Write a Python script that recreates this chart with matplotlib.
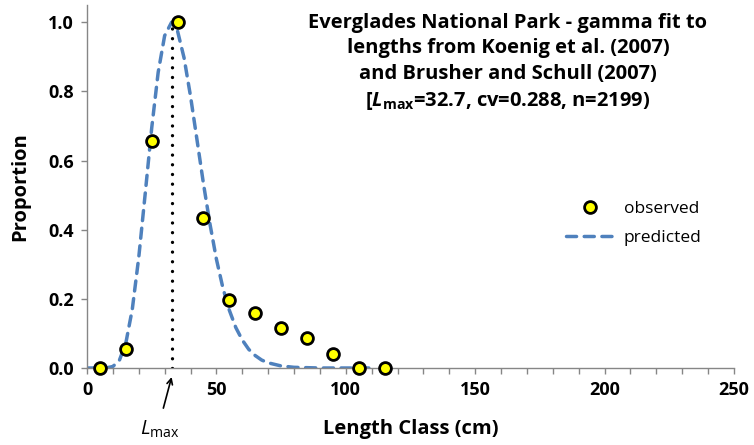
import matplotlib
matplotlib.use("Agg")
import matplotlib.pyplot as plt
from matplotlib.ticker import MultipleLocator, FormatStrFormatter

FONT = 'Open Sans'
plt.rcParams['font.family'] = [FONT, 'DejaVu Sans']
plt.rcParams['mathtext.fontset'] = 'custom'
plt.rcParams['mathtext.rm'] = FONT
plt.rcParams['mathtext.it'] = FONT + ':italic'
plt.rcParams['mathtext.bf'] = FONT + ':bold'
plt.rcParams['mathtext.bfit'] = FONT + ':bold:italic'

# observed data
obs_x = [5, 15, 25, 35, 45, 55, 65, 75, 85, 95, 105, 115]
obs_y = [0.0, 0.055, 0.655, 1.0, 0.435, 0.198, 0.158, 0.115, 0.086, 0.040, 0.0, 0.0]

# predicted (gamma fit) curve values
pred_x = [0, 2.5, 5, 7.5, 10, 12.5, 15, 17.5, 20, 22.5, 25, 27.5, 30, 32.7, 35, 37.5,
          40, 42.5, 45, 47.5, 50, 52.5, 55, 57.5, 60, 62.5, 65, 67.5, 70, 75, 80,
          85, 90, 95, 100, 105, 110]
pred_y = [0.0, 0.0, 0.0, 0.0004, 0.0044, 0.022, 0.072, 0.170, 0.320, 0.505, 0.694,
          0.855, 0.961, 1.0, 0.974, 0.897, 0.786, 0.660, 0.533, 0.417, 0.315, 0.232,
          0.167, 0.117, 0.081, 0.054, 0.036, 0.023, 0.015, 0.006, 0.002, 0.001,
          0.0, 0.0, 0.0, 0.0, 0.0]

lmax = 32.7

xticks = [0, 50, 100, 150, 200, 250]
yticks = [0.0, 0.2, 0.4, 0.6, 0.8, 1.0]

title_lines = ["Everglades National Park - gamma fit to",
               "lengths from Koenig et al. (2007)",
               "and Brusher and Schull (2007)",
               r"[$\mathbfit{L}_{\mathbf{max}}$=32.7, cv=0.288, n=2199)"]

fig = plt.figure(figsize=(7.54, 4.45), dpi=100)
ax = fig.add_axes([0.1154, 0.173, 0.858, 0.816])

blue = '#4F81BD'
ax.plot(pred_x, pred_y, color=blue, lw=2.5, linestyle=(0, (2.9, 2.2)), label='predicted',
        dash_capstyle='round', zorder=2)
ax.plot([lmax, lmax], [0, 1.0], color='black', lw=2.4, linestyle=(0, (0.01, 2.9)),
        dash_capstyle='round', zorder=3)
ax.plot(obs_x, obs_y, linestyle='none', marker='o', markersize=8.5, markerfacecolor='#FFFF00',
        markeredgecolor='black', markeredgewidth=2.0, label='observed', zorder=4, clip_on=False)

ax.set_xlim(0, 250)
ax.set_ylim(0, 1.05)
ax.set_xticks(xticks)
ax.set_yticks(yticks)
ax.xaxis.set_minor_locator(MultipleLocator(10))
ax.yaxis.set_major_formatter(FormatStrFormatter('%.1f'))

for s in ['top', 'right']:
    ax.spines[s].set_visible(False)
for s in ['left', 'bottom']:
    ax.spines[s].set_color('#868686')
    ax.spines[s].set_linewidth(1.0)
ax.tick_params(axis='both', which='both', direction='out', length=4.5, width=1.0, color='#868686')
ax.tick_params(axis='both', which='major', labelsize=13, pad=5)
for lab in ax.get_xticklabels() + ax.get_yticklabels():
    lab.set_fontweight('bold')

ax.set_xlabel('Length Class (cm)', fontsize=14.5, fontweight='bold', labelpad=14)
ax.set_ylabel('Proportion', fontsize=14.5, fontweight='bold', labelpad=13)

fig.text(508 / 754, 1 - 13 / 445, "\n".join(title_lines), ha='center', va='top',
         fontsize=14.5, fontweight='bold', linespacing=1.36)

# Lmax arrow and label
ax.annotate('', xy=(lmax, -0.026), xytext=(29.5, -0.116),
            arrowprops=dict(arrowstyle='->', color='black', lw=1.2, shrinkA=0, shrinkB=0),
            annotation_clip=False)
ax.text(28.3, -0.178, r'$\mathit{L}_{\mathrm{max}}$', ha='center', va='center', fontsize=14.5)

handles, labels = ax.get_legend_handles_labels()
order = [1, 0]
ax.legend([handles[i] for i in order], [labels[i] for i in order], loc='center left',
          bbox_to_anchor=(0.716, 0.398), frameon=False, fontsize=12.5, handlelength=2.8,
          handletextpad=0.55, labelspacing=0.75)

fig.savefig('out.png', dpi=100)
